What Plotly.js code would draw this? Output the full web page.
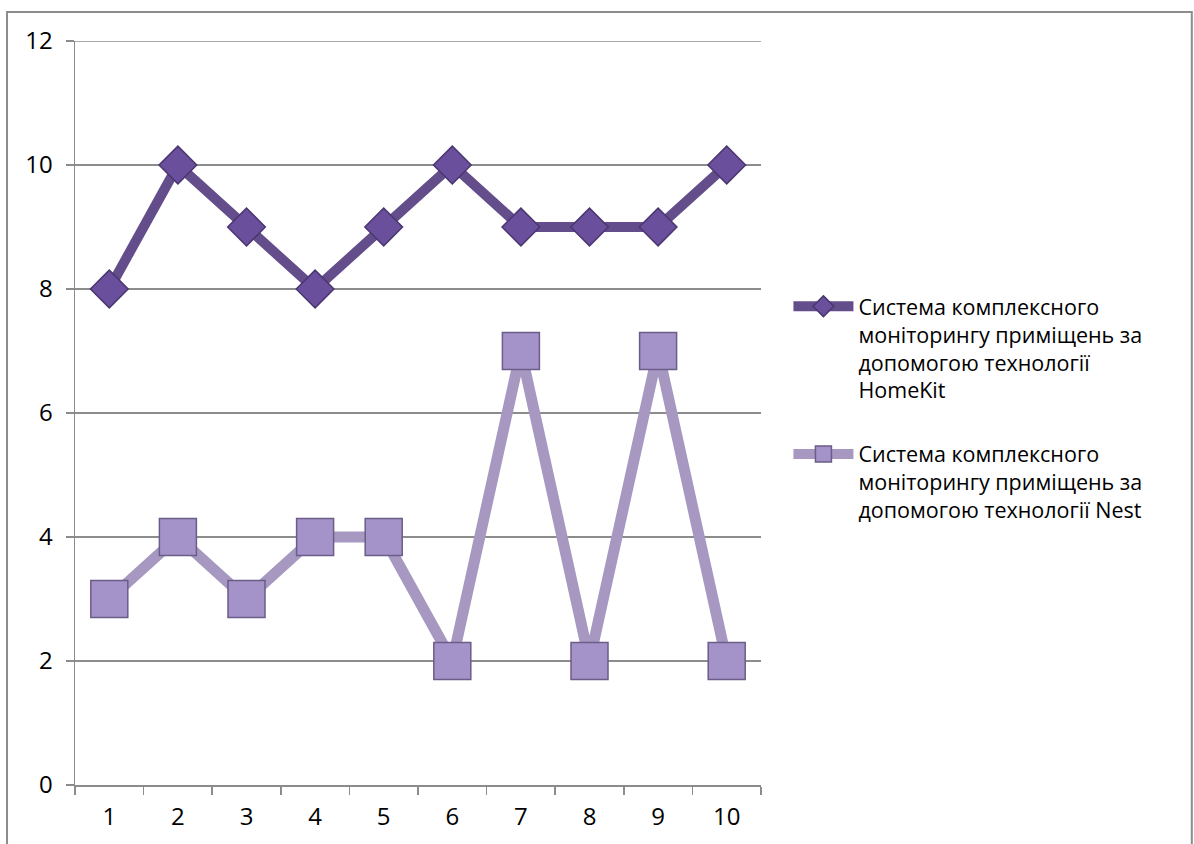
<!DOCTYPE html>
<html><head><meta charset="utf-8">
<script src="https://cdn.plot.ly/plotly-3.0.1.min.js"></script>
<style>html,body{margin:0;padding:0;background:#fff}#chart{width:1194px;height:844px}</style>
</head><body><div id="chart"></div>
<script>
const categories = ['1','2','3','4','5','6','7','8','9','10'];
const homekitValues = [8,10,9,8,9,10,9,9,9,10];
const nestValues = [3,4,3,4,4,2,7,2,7,2];
const seriesNames = [
  'Система комплексного<br>моніторингу приміщень за<br>допомогою технології<br>HomeKit',
  'Система комплексного<br>моніторингу приміщень за<br>допомогою технології Nest'
];
const yTicks = [0,2,4,6,8,10,12];

const font = {family: 'Open Sans, Liberation Sans, sans-serif', size: 24, color: '#000'};
const legendFont = {family: 'Open Sans, Liberation Sans, sans-serif', size: 21.5, color: '#000'};
const traces = [
  {x: categories, y: homekitValues, name: seriesNames[0], legendgroup: 'homekit', type: 'scatter', mode: 'lines+markers',
   line: {color: '#644d8b', width: 10},
   marker: {symbol: 'diamond', size: 29, color: '#6a509c', line: {color: '#4a3670', width: 1.5}}},
  {x: categories, y: nestValues, name: seriesNames[1], legendgroup: 'nest', type: 'scatter', mode: 'lines+markers',
   line: {color: '#a698c0', width: 11},
   marker: {symbol: 'square', size: 37, color: '#a493c9', line: {color: '#6c5c88', width: 1.5}}}
];
const layout = {
  width: 1194, height: 844,
  margin: {l: 75, r: 433, t: 41, b: 59},
  paper_bgcolor: '#fff', plot_bgcolor: '#fff',
  font: font,
  showlegend: true,
  legend: {x: 1.04, xanchor: 'left', y: 0.671, yanchor: 'top', font: legendFont, itemwidth: 60,
           valign: 'top', traceorder: 'grouped', tracegroupgap: 33, bgcolor: 'rgba(0,0,0,0)'},
  xaxis: {type: 'category', range: [-0.5, 9.5], tickson: 'boundaries', ticks: 'outside', ticklen: 8, tickcolor: '#8c8c8c',
          tickwidth: 1.5, showline: true, linecolor: '#8c8c8c', linewidth: 1.5, showgrid: false,
          ticklabelstandoff: 10, tickfont: font, fixedrange: true},
  yaxis: {range: [0, 12], tickvals: yTicks, ticks: 'outside', ticklen: 8, tickcolor: '#8c8c8c', tickwidth: 1.5,
          showline: true, linecolor: '#8c8c8c', linewidth: 1.5, showgrid: true, gridcolor: '#8c8c8c',
          gridwidth: 1.5, zeroline: false, ticklabelstandoff: 8, tickfont: font, fixedrange: true},
  shapes: [
    {type: 'rect', xref: 'paper', yref: 'paper', x0: -0.0991, x1: 1.628, y0: -0.3, y1: 1.039,
     line: {color: '#8c8c8c', width: 2}, fillcolor: 'rgba(0,0,0,0)', layer: 'below'},
    {type: 'line', xref: 'paper', yref: 'y', x0: 0, x1: 1, y0: yTicks[yTicks.length - 1], y1: yTicks[yTicks.length - 1],
     line: {color: '#8c8c8c', width: 1.5}, layer: 'below'}
  ]
};
Plotly.newPlot('chart', traces, layout, {displayModeBar: false, staticPlot: true});
</script></body></html>
